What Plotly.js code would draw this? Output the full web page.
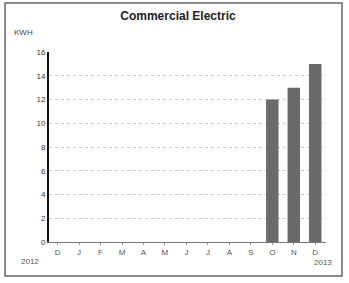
<!DOCTYPE html>
<html><head><meta charset="utf-8">
<script src="https://cdn.plot.ly/plotly-3.0.1.min.js"></script>
<style>
html,body{margin:0;padding:0;background:#fff;}
#chart{width:349px;height:283px;}
</style>
</head><body>
<div id="chart"></div>
<script>
var months = ["D","J","F","M","A","M","J","J","A","S","O","N","D"];
var kwh = [0,0,0,0,0,0,0,0,0,0,12,13,15];
var yTicks = [0,2,4,6,8,10,12,14,16];
var startYear = "2012";
var endYear = "2013";

var idx = months.map(function(m,i){return i;});
var trace = {
  type:"bar", x: idx, y: kwh,
  marker:{color:"#6a6a6a", line:{width:0}},
  width:0.58, hoverinfo:"skip"
};
var layout = {
  width:349, height:283,
  margin:{l:49, r:23, t:52, b:41},
  paper_bgcolor:"#fff", plot_bgcolor:"#fff",
  showlegend:false,
  font:{family:"Liberation Sans, Arial, sans-serif", color:"#333"},
  title:{text:"<b>Commercial Electric</b>", x:0.51, xanchor:"center", y:0.945, yanchor:"middle",
         font:{size:12, color:"#222", family:"Liberation Sans, Arial, sans-serif"}},
  xaxis:{range:[-0.4,12.5], tickmode:"array", tickvals:idx, ticktext:months,
         showgrid:false, zeroline:false, showline:true, linecolor:"#777", linewidth:1,
         ticks:"outside", ticklen:2, tickcolor:"#999",
         tickfont:{size:8, color:"#555"}, fixedrange:true},
  yaxis:{range:[0,16], tickmode:"array", tickvals:yTicks, ticktext:yTicks.map(String),
         showgrid:true, gridcolor:"#c8c8c8", griddash:"dot", gridwidth:1,
         zeroline:false, showline:true, linecolor:"#111", linewidth:2,
         ticks:"", tickfont:{size:8, color:"#333"}, fixedrange:true},
  shapes:[
    {type:"rect", xref:"paper", yref:"paper",
     x0:(5-49)/277, x1:(342-49)/277, y0:(242-276)/190, y1:(242-3)/190,
     line:{color:"#666", width:1.5}, fillcolor:"rgba(0,0,0,0)", layer:"above"}
  ],
  annotations:[
    {text:"KWH", xref:"paper", yref:"paper", x:-0.135, y:1.1, xanchor:"left", yanchor:"middle",
     showarrow:false, font:{size:8, color:"#444"}},
    {text:startYear, xref:"paper", yref:"paper", x:-0.07, y:-0.1, xanchor:"center", yanchor:"middle",
     showarrow:false, font:{size:8, color:"#555"}},
    {text:endYear, xref:"paper", yref:"paper", x:0.99, y:-0.11, xanchor:"center", yanchor:"middle",
     showarrow:false, font:{size:8, color:"#555"}}
  ]
};
Plotly.newPlot("chart",[trace],layout,{displayModeBar:false, staticPlot:true});
</script>
</body></html>
